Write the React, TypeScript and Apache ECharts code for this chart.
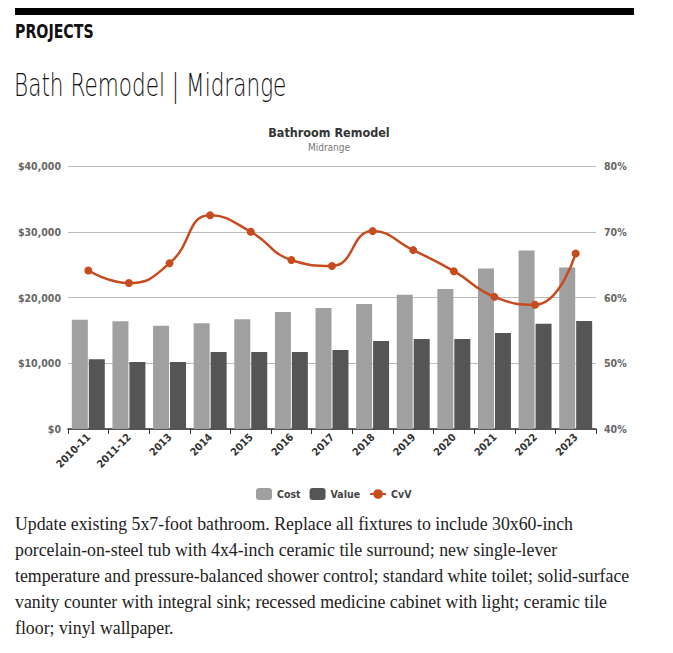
import React, { useEffect, useRef } from "react";
import * as echarts from "echarts";

const categories = ["2010-11", "2011-12", "2013", "2014", "2015", "2016", "2017", "2018", "2019", "2020", "2021", "2022", "2023"];
const costValues = [16600, 16400, 15700, 16100, 16700, 17800, 18400, 19000, 20400, 21300, 24400, 27150, 24560];
const valueValues = [10600, 10200, 10200, 11700, 11700, 11700, 12000, 13370, 13680, 13680, 14600, 16000, 16430];
const cvvValues = [64.1, 62.2, 65.2, 72.5, 70.0, 65.7, 64.8, 70.1, 67.2, 64.0, 60.1, 58.9, 66.7];
const leftTicks = { min: 0, max: 40000, interval: 10000 };
const rightTicks = { min: 40, max: 80, interval: 10 };

const NARROW = "'DejaVu Sans Condensed', 'Liberation Sans Narrow', sans-serif";

function Chart() {
  const ref = useRef<HTMLDivElement>(null);
  useEffect(() => {
    if (!ref.current) return;
    const chart = echarts.init(ref.current, undefined, { renderer: "svg" });
    chart.setOption({
      animation: false,
      title: {
        text: "Bathroom Remodel",
        subtext: "Midrange",
        left: 324,
        top: 11,
        textAlign: "center",
        itemGap: 3,
        textStyle: { fontFamily: NARROW, fontWeight: "bold", fontSize: 12.5, color: "#333" },
        subtextStyle: { fontFamily: NARROW, fontSize: 10, color: "#777" },
      },
      legend: {
        top: 373,
        left: 251,
        itemWidth: 16,
        itemHeight: 12,
        itemGap: 9,
        textStyle: { fontFamily: NARROW, fontWeight: "bold", fontSize: 10.5, color: "#444" },
        data: [
          { name: "Cost", icon: "roundRect" },
          { name: "Value", icon: "roundRect" },
          { name: "CvV" },
        ],
      },
      grid: { left: 68, right: 77, top: 56, bottom: 81 },
      xAxis: {
        type: "category",
        data: categories,
        axisLine: { lineStyle: { color: "#333", width: 1.5 } },
        axisTick: { show: true, length: 5, lineStyle: { color: "#333" } },
        axisLabel: {
          rotate: 45,
          interval: 0,
          fontFamily: NARROW,
          fontWeight: "bold",
          fontSize: 10.5,
          color: "#333",
          margin: 6,
        },
      },
      yAxis: [
        {
          type: "value",
          min: leftTicks.min,
          max: leftTicks.max,
          interval: leftTicks.interval,
          axisLine: { show: false },
          axisTick: { show: false },
          splitLine: { lineStyle: { color: "#bbb" } },
          axisLabel: {
            fontFamily: NARROW,
            fontWeight: "bold",
            fontSize: 10.5,
            color: "#666",
            margin: 7,
            formatter: (v: number) => "$" + v.toLocaleString("en-US"),
          },
        },
        {
          type: "value",
          min: rightTicks.min,
          max: rightTicks.max,
          interval: rightTicks.interval,
          axisLine: { show: false },
          axisTick: { show: false },
          splitLine: { show: false },
          axisLabel: {
            fontFamily: NARROW,
            fontWeight: "bold",
            fontSize: 10.5,
            color: "#666",
            margin: 8,
            formatter: (v: number) => v + "%",
          },
        },
      ],
      series: [
        {
          name: "Cost",
          type: "bar",
          data: costValues,
          barWidth: 16,
          barGap: "6%",
          itemStyle: { color: "#a0a0a0" },
        },
        {
          name: "Value",
          type: "bar",
          data: valueValues,
          barWidth: 16,
          itemStyle: { color: "#555555" },
        },
        {
          name: "CvV",
          type: "line",
          yAxisIndex: 1,
          data: cvvValues,
          smooth: true,
          symbol: "circle",
          symbolSize: 8,
          lineStyle: { color: "#c64c1f", width: 2.5 },
          itemStyle: { color: "#c64c1f" },
        },
      ],
    });
    return () => chart.dispose();
  }, []);
  return <div ref={ref} style={{ position: "absolute", left: 0, top: 110, width: 673, height: 400 }} />;
}

export default function App() {
  return (
    <div style={{ position: "absolute", left: 0, top: 0, width: 673, height: 653, background: "#fff", overflow: "hidden" }}>
      <div style={{ position: "absolute", left: 15, top: 8, width: 619, height: 7, background: "#000" }} />
      <div
        style={{
          position: "absolute",
          left: 15,
          top: 21,
          fontFamily: NARROW,
          fontWeight: "bold",
          fontSize: 19,
          color: "#111",
          lineHeight: "20px",
          whiteSpace: "nowrap",
          transform: "scaleX(0.83)",
          transformOrigin: "0 0",
        }}
      >
        PROJECTS
      </div>
      <div
        style={{
          position: "absolute",
          left: 14,
          top: 66,
          fontFamily: "'DejaVu Sans', sans-serif",
          fontWeight: 200,
          fontSize: 32,
          color: "#111",
          lineHeight: "38px",
          whiteSpace: "nowrap",
          transform: "scaleX(0.675)",
          transformOrigin: "0 0",
        }}
      >
        Bath Remodel | Midrange
      </div>
      <Chart />
      <div
        style={{
          position: "absolute",
          left: 15,
          top: 511,
          fontFamily: "'Liberation Serif', 'DejaVu Serif', serif",
          fontSize: 17.8,
          lineHeight: "26px",
          color: "#222",
          whiteSpace: "nowrap",
        }}
      >
        Update existing 5x7-foot bathroom. Replace all fixtures to include 30x60-inch
        <br />
        porcelain-on-steel tub with 4x4-inch ceramic tile surround; new single-lever
        <br />
        temperature and pressure-balanced shower control; standard white toilet; solid-surface
        <br />
        vanity counter with integral sink; recessed medicine cabinet with light; ceramic tile
        <br />
        floor; vinyl wallpaper.
      </div>
    </div>
  );
}
